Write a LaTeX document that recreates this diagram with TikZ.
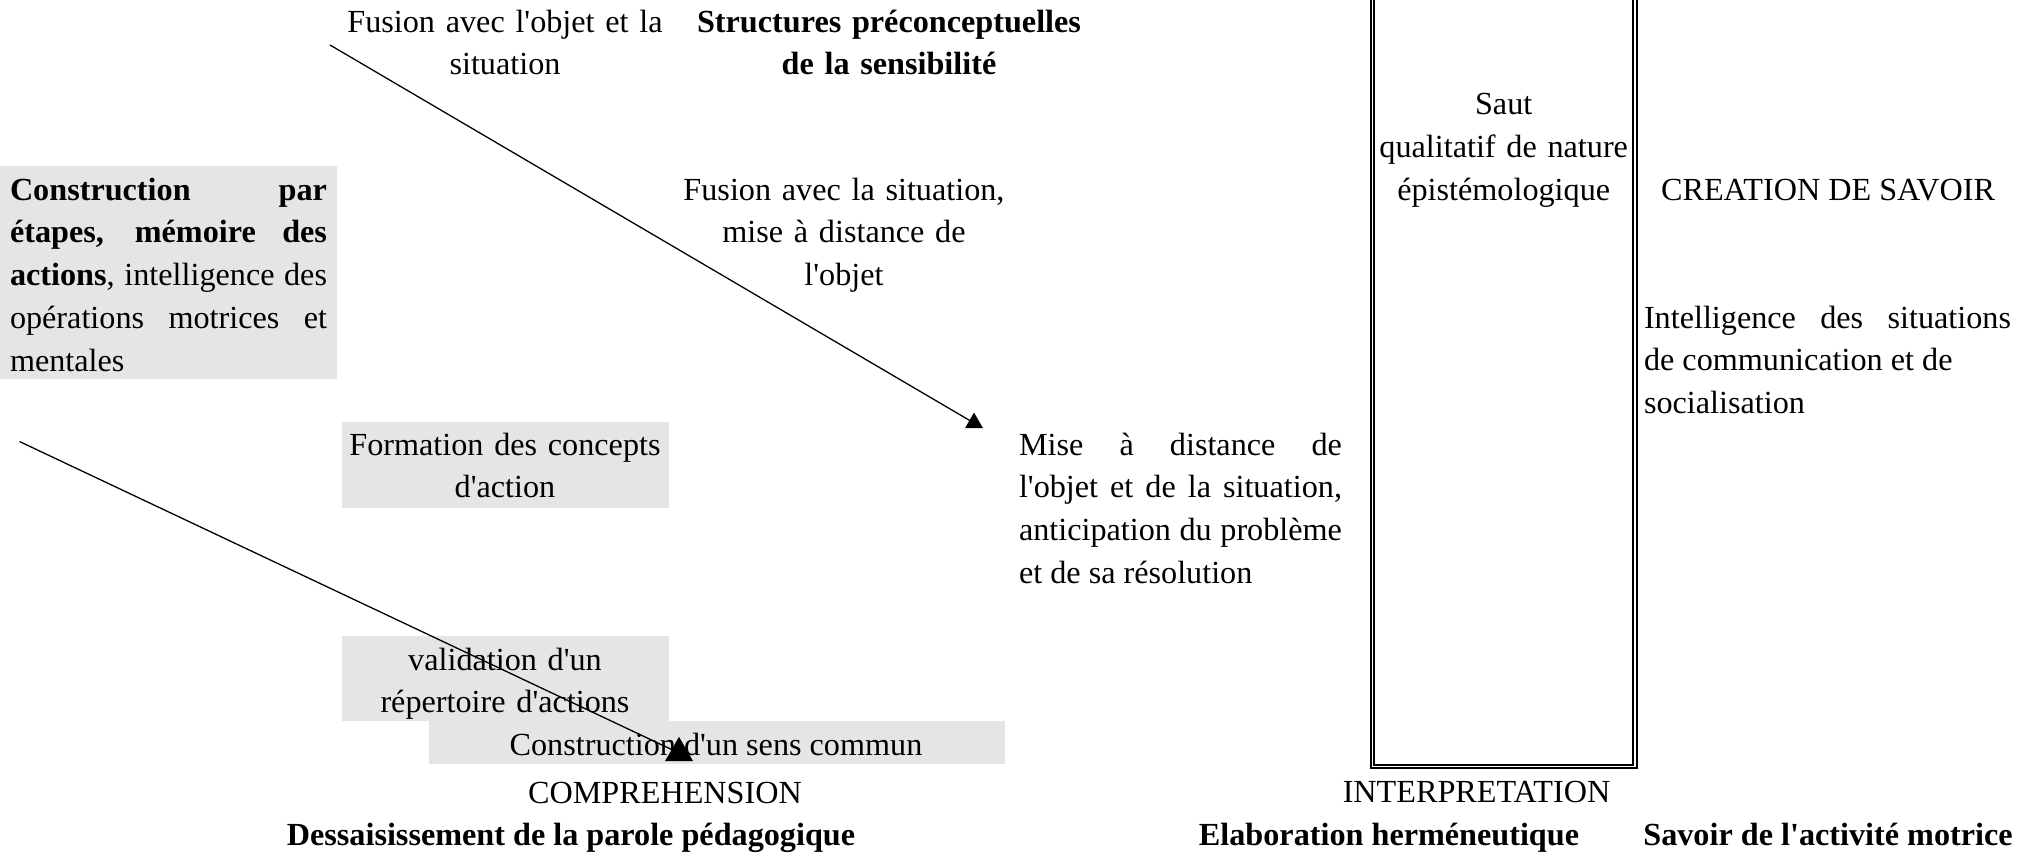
\documentclass[tikz,border=0pt]{standalone}
\usepackage{fontspec}
\setmainfont{Liberation Serif}
\usetikzlibrary{shapes.geometric}
\definecolor{boxgray}{RGB}{229,229,229}
\newcommand{\ap}{\textquotesingle}
% one line stretched to the full column width
\newcommand{\jline}[1]{\makebox[\linewidth][s]{#1}\par}

\begin{document}
\begin{tikzpicture}[x=1pt,y=-1pt,
  txt/.style={inner sep=0pt, outer sep=0pt, font=\fontsize{32.2}{42.9}\selectfont, anchor=base},
  strong/.style={font=\fontsize{32.2}{42.9}\selectfont\bfseries},
  ctr/.style={txt, align=center, text width=#1},
  jst/.style={txt, align=justify, text width=#1, anchor=base west},
  panel/.style={fill=boxgray, draw=none, inner sep=0pt, outer sep=0pt, anchor=north west},
  link/.style={line width=1.3pt},
  head/.style={regular polygon, regular polygon sides=3, fill=black, draw=none,
               inner sep=0pt, outer sep=0pt, minimum size=#1}
]
\useasboundingbox (0,0) rectangle (2037,854);

% shaded panels
\node[panel, minimum width=337pt, minimum height=213pt] (panelA) at (0,166) {};
\node[panel, minimum width=327pt, minimum height=85.5pt] (panelB) at (342,422) {};
\node[panel, minimum width=327pt, minimum height=85pt] (panelC) at (342,636) {};
\node[panel, minimum width=576pt, minimum height=42.5pt] (panelD) at (429,721) {};

% top labels
\node[ctr=330pt] (fusionA) at (505,32) {Fusion avec l\ap objet et la\\situation};
\node[ctr=400pt, strong] (struct) at (889,32) {Structures préconceptuelles\\de la sensibilité};

% left column
\node[jst=317pt] (constr) at (10,200) {\jline{\textbf{Construction par}}\jline{\textbf{étapes, mémoire des}}\jline{\textbf{actions}, intelligence des}\jline{opérations motrices et}mentales};
\node[ctr=320pt] (formation) at (505,455) {Formation des concepts\\d\ap action};
\node[ctr=320pt] (validation) at (505,670) {validation d\ap un\\répertoire d\ap actions};
\node[txt] (sens) at (716,755) {Construction d\ap un sens commun};

% middle column
\node[ctr=330pt] (fusionB) at (844,200) {Fusion avec la situation,\\mise à distance de\\l\ap objet};
\node[jst=323pt] (mise) at (1019,455) {\jline{Mise à distance de}\jline{l\ap objet et de la situation,}\jline{anticipation du problème}et de sa résolution};

% double frame of the qualitative leap
\draw[double, line width=2pt, double distance=1.4pt, line join=miter]
  (1372.7,-20) -- (1372.7,766.5) -- (1634.8,766.5) -- (1634.8,-20);
\node[ctr=250pt] (saut) at (1503.7,114.3) {Saut\\qualitatif de nature\\épistémologique};

% right column
\node[txt] (creation) at (1828,200) {CREATION DE SAVOIR};
\node[jst=367pt] (intel) at (1644,328) {\jline{Intelligence des situations}de communication et de\par socialisation};

% bottom labels
\node[txt] (compr) at (665,803) {COMPREHENSION};
\node[txt, strong] (dessai) at (571,845) {Dessaisissement de la parole pédagogique};
\node[txt] (interp) at (1476.5,802) {INTERPRETATION};
\node[txt, strong] (elab) at (1389,845) {Elaboration herméneutique};
\node[txt, strong] (savoir) at (1828,845) {Savoir de l\ap activité motrice};

% arrows with triangular heads
\node[head=20.8pt] (tip1) at (974,423) {};
\node[head=32.3pt] (tip2) at (679,753) {};
\coordinate (from1) at (330,45);
\coordinate (from2) at (19.5,441.5);
\draw[link] (from1) -- (tip1.center);
\draw[link] (from2) -- (tip2.center);
\end{tikzpicture}
\end{document}
